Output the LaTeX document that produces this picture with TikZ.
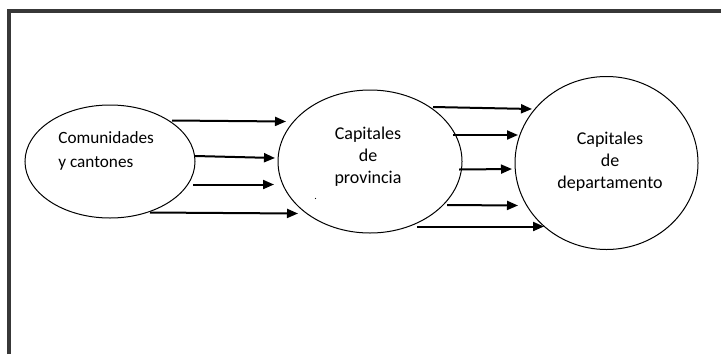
\documentclass[tikz,border=0pt]{standalone}
\usepackage{fontspec}
\setmainfont{Carlito}
\usetikzlibrary{shapes.geometric,arrows.meta}
\begin{document}
\begin{tikzpicture}[x=0.5pt,y=-0.5pt,
  bubble/.style={draw=black,line width=0.5pt,shape=ellipse,inner sep=0pt},
  lbl/.style={inner sep=0pt,font=\fontsize{9}{11}\selectfont,align=center},
  flow/.style={line width=1pt,-{Triangle[length=5.5pt,width=4.5pt]}},
  frame/.style={draw=black!78,line width=1.8pt}]
\useasboundingbox (0,0) rectangle (721,354);
\draw[frame] (9,354) -- (9,11) -- (721,11);
% ellipses
\node[bubble,minimum width=85pt,minimum height=56.5pt] (e1) at (110,161.5) {};
\node[bubble,minimum width=92pt,minimum height=71.5pt] (e2) at (370,161.5) {};
\node[bubble,minimum width=91.5pt,minimum height=86.5pt] (e3) at (606.5,163) {};
% texts
\node[lbl,align=left,anchor=west,font=\fontsize{8.6}{12}\selectfont] (t1) at (58,151) {Comunidades\\y cantones};
\node[lbl] (t2) at (368,157) {Capitales\\de\\provincia};
\node[lbl] (t3) at (610,162) {Capitales\\de\\departamento};
\node[inner sep=0pt,font=\fontsize{5}{5}\selectfont] (dot) at (315.7,199) {.};
% arrow end points, left group
\coordinate (a1s) at (172,120.5); \coordinate (a1e) at (286,121.5);
\coordinate (a2s) at (195,156);   \coordinate (a2e) at (275,158);
\coordinate (a3s) at (193,184.5); \coordinate (a3e) at (274,184.5);
\coordinate (a4s) at (150,212.5); \coordinate (a4e) at (298,213.5);
% right group
\coordinate (b1s) at (433,107);   \coordinate (b1e) at (532,109);
\coordinate (b2s) at (453,135);   \coordinate (b2e) at (518,135);
\coordinate (b3s) at (459,169.5); \coordinate (b3e) at (512,169);
\coordinate (b4s) at (447,205);   \coordinate (b4e) at (518,205.5);
\coordinate (b5s) at (417,226.5); \coordinate (b5e) at (544,226.5);
\foreach \p in {a1,a2,a3,a4,b1,b2,b3,b4,b5}
  \draw[flow] (\p s) -- (\p e);
\end{tikzpicture}
\end{document}
